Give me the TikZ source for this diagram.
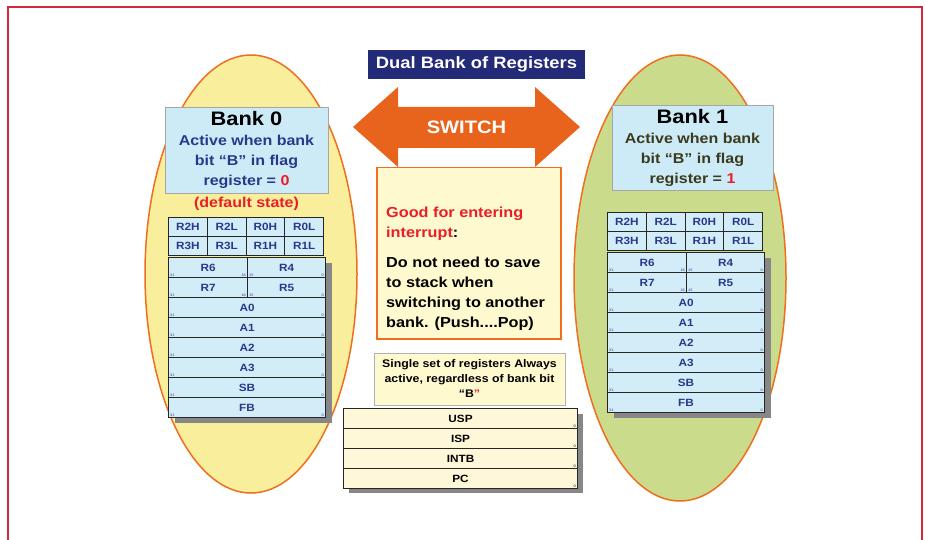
\documentclass[tikz,border=0pt]{standalone}
\usepackage{fontspec}
\setmainfont[FakeStretch=1.12]{Liberation Sans}
\usetikzlibrary{positioning}

\definecolor{framered}{RGB}{214,40,60}
\definecolor{bankyellow}{RGB}{248,238,155}
\definecolor{bankgreen}{RGB}{202,220,140}
\definecolor{edgeorange}{RGB}{240,110,30}
\definecolor{arroworange}{RGB}{232,100,28}
\definecolor{titlenavy}{RGB}{35,42,120}
\definecolor{regblue}{RGB}{210,236,248}
\definecolor{boxblue}{RGB}{205,235,246}
\definecolor{textnavy}{RGB}{42,56,140}
\definecolor{textolive}{RGB}{58,58,30}
\definecolor{hotred}{RGB}{232,30,40}
\definecolor{noteyellow}{RGB}{255,249,207}
\definecolor{regcream}{RGB}{255,248,216}
\definecolor{shadowgray}{RGB}{135,135,135}

\tikzset{
	reg/.style={draw=black!85, line width=1.1pt, fill=regblue, inner sep=0pt,
		minimum height=20pt, anchor=north west, text=textnavy,
		font=\bfseries\fontsize{10.5}{12}\selectfont},
	bitno/.style={inner sep=0pt, font=\fontsize{3.5}{4}\selectfont, text=textnavy},
	bankbox/.style={draw=gray!70, fill=boxblue, line width=0.8pt, align=center,
		inner sep=0pt, font=\bfseries\fontsize{14.3}{20}\selectfont},
	banktitle/.style={font=\bfseries\fontsize{19.5}{20}\selectfont}
}

% one bank of registers, #1 = name prefix
\newcommand{\regtable}[1]{
	% shadow
	\fill[shadowgray] (7,46) rectangle (164,206);
	% 8-bit halves
	\foreach \nm [count=\i from 0] in {R2H,R2L,R0H,R0L}
	\node[reg, minimum width=38.75pt, minimum height=19pt] (#1-\nm) at (\i*38.75,0) {\nm};
	\foreach \nm [count=\i from 0] in {R3H,R3L,R1H,R1L}
	\node[reg, minimum width=38.75pt, minimum height=19pt] (#1-\nm) at (\i*38.75,19) {\nm};
	% 32-bit pairs
	\node[reg, minimum width=79pt] (#1-R6) at (0,40) {R6};
	\node[reg, minimum width=78pt] (#1-R4) at (79,40) {R4};
	\node[reg, minimum width=79pt] (#1-R7) at (0,60) {R7};
	\node[reg, minimum width=78pt] (#1-R5) at (79,60) {R5};
	\foreach \nm [count=\i from 4] in {A0,A1,A2,A3,SB,FB}
	\node[reg, minimum width=157pt] (#1-\nm) at (0,\i*20) {\nm};
	% bit numbers
	\foreach \nm in {R6,R7}{
		\node[bitno, anchor=south west] at ([shift={(2pt,1.5pt)}]#1-\nm.south west) {31};
		\node[bitno, anchor=south east] at ([shift={(-2pt,1.5pt)}]#1-\nm.south east) {16};
	}
	\foreach \nm in {R4,R5}{
		\node[bitno, anchor=south west] at ([shift={(2pt,1.5pt)}]#1-\nm.south west) {15};
		\node[bitno, anchor=south east] at ([shift={(-2pt,1.5pt)}]#1-\nm.south east) {0};
	}
	\foreach \nm in {A0,A1,A2,A3,SB,FB}{
		\node[bitno, anchor=south west] at ([shift={(2pt,1.5pt)}]#1-\nm.south west) {31};
		\node[bitno, anchor=south east] at ([shift={(-2pt,1.5pt)}]#1-\nm.south east) {0};
	}
}

\begin{document}
\begin{tikzpicture}[x=1pt, y=-1pt]
	\useasboundingbox (0,0) rectangle (925,540);
	% frame
	\draw[framered, line width=1.2pt] (8,542) -- (8,7) -- (922,7) -- (922,542);
	
	% the two banks
	\draw[edgeorange, line width=1.5pt, fill=bankyellow] (251,274) ellipse [x radius=106, y radius=219];
	\draw[edgeorange, line width=1.5pt, fill=bankgreen] (680,278) ellipse [x radius=106, y radius=223];
	
	% title
	\node[fill=titlenavy, text=white, font=\bfseries\fontsize{16.4}{18}\selectfont,
	minimum width=217pt, minimum height=29pt, inner sep=0pt] (title) at (476.5,64.5) {Dual Bank of Registers};
	
	% switch arrow
	\fill[arroworange] (353,127) -- (398,87) -- (398,107) -- (535,107) -- (535,87) -- (580,127)
	-- (535,167) -- (535,148) -- (398,148) -- (398,167) -- cycle;
	\node[text=white, font=\bfseries\fontsize{18}{20}\selectfont] (switch) at (466.5,127.5) {SWITCH};
	
	% note under the arrow
	\node[draw=edgeorange, line width=1.5pt, fill=noteyellow, minimum width=184pt,
	minimum height=171pt, anchor=north west, inner sep=0pt] (note) at (376,167) {};
	\node[anchor=north west, inner sep=0pt, align=left,
	font=\bfseries\fontsize{14.5}{20}\selectfont] (notetext) at (386,207)
	{\textcolor{hotred}{Good for entering}\\
		\textcolor{hotred}{interrupt}:\\[10pt]
		Do not need to save\\
		to stack when\\
		switching to another\\
		bank. (Push....Pop)};
	
	% bank 0 header
	\node[bankbox, minimum width=163pt, minimum height=86pt] (bank0) at (246.5,150)
	{{\fontsize{19.5}{20}\selectfont Bank 0}\\
		\textcolor{textnavy}{Active when bank}\\
		\textcolor{textnavy}{bit “B” in flag}\\
		\textcolor{textnavy}{register =} \textcolor{hotred}{0}};
	\node[text=hotred, inner sep=0pt, font=\bfseries\fontsize{14.3}{20}\selectfont,
	below=4pt of bank0] (defstate) {(default state)};
	
	% bank 1 header
	\node[bankbox, minimum width=161pt, minimum height=85pt] (bank1) at (692.5,147.5)
	{{\fontsize{19.5}{20}\selectfont Bank 1}\\
		\textcolor{textolive}{Active when bank}\\
		\textcolor{textolive}{bit “B” in flag}\\
		\textcolor{textolive}{register =} \textcolor{hotred}{1}};
	
	% register tables
	\begin{scope}[shift={(168,217)}]
		\regtable{bzero}
	\end{scope}
	\begin{scope}[shift={(607,212)}]
		\regtable{bone}
	\end{scope}
	
	% common registers
	\node[draw=gray!60, fill=noteyellow, minimum width=191pt, minimum height=52pt,
	inner sep=0pt, align=center, font=\bfseries\fontsize{11}{15}\selectfont] (single) at (469.5,379)
	{Single set of registers Always\\
		active, regardless of bank bit\\
		“B\textcolor{hotred}{”}};
	\fill[shadowgray] (349,414) rectangle (583,493);
	\foreach \nm [count=\i from 0] in {USP,ISP,INTB,PC}{
		\node[reg, fill=regcream, text=black, minimum width=234pt] (\nm) at (343,408+\i*20) {\nm};
		\node[bitno, text=black, anchor=south east] at ([shift={(-2pt,1.5pt)}]\nm.south east) {0};
	}
\end{tikzpicture}
\end{document}
